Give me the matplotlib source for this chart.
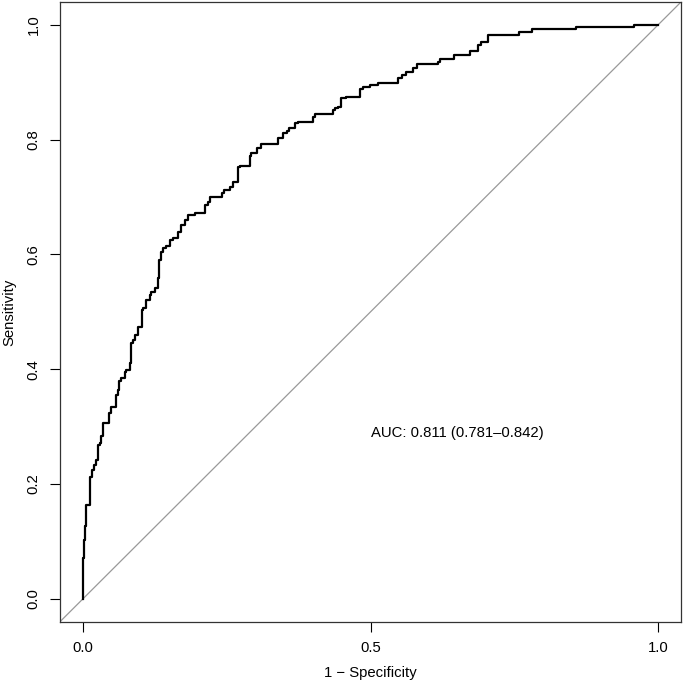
import matplotlib
matplotlib.use('Agg')
import matplotlib.pyplot as plt

plt.rcParams['font.family'] = ['Liberation Sans', 'DejaVu Sans']

# ROC-Kurve (1 - Spezifitaet, Sensitivitaet)
fpr = [0.0, 0.002, 0.003, 0.006, 0.008, 0.012, 0.013, 0.016, 0.019, 0.023,
       0.026, 0.029, 0.031, 0.034, 0.037, 0.046, 0.049, 0.052, 0.057, 0.060,
       0.063, 0.066, 0.073, 0.075, 0.081, 0.084, 0.087, 0.090, 0.096, 0.102,
       0.104, 0.110, 0.116, 0.119, 0.125, 0.130, 0.133, 0.135, 0.139, 0.145,
       0.151, 0.157, 0.165, 0.171, 0.177, 0.183, 0.194, 0.203, 0.212, 0.217,
       0.220, 0.229, 0.241, 0.246, 0.255, 0.261, 0.267, 0.270, 0.273, 0.290,
       0.293, 0.302, 0.310, 0.322, 0.339, 0.348, 0.354, 0.359, 0.368, 0.374,
       0.380, 0.400, 0.403, 0.409, 0.435, 0.438, 0.443, 0.449, 0.458, 0.464,
       0.481, 0.487, 0.499, 0.513, 0.516, 0.548, 0.554, 0.562, 0.574, 0.580,
       0.589, 0.617, 0.620, 0.629, 0.646, 0.649, 0.673, 0.675, 0.687, 0.693,
       0.699, 0.704, 0.706, 0.759, 0.761, 0.780, 0.781, 0.806, 0.858, 0.859,
       0.959, 0.961, 1.0]
tpr = [0.0, 0.071, 0.103, 0.126, 0.164, 0.164, 0.211, 0.213, 0.225, 0.233,
       0.242, 0.268, 0.271, 0.283, 0.306, 0.306, 0.324, 0.335, 0.335, 0.355,
       0.364, 0.379, 0.385, 0.396, 0.399, 0.411, 0.445, 0.451, 0.460, 0.474,
       0.503, 0.506, 0.521, 0.530, 0.535, 0.541, 0.559, 0.591, 0.605, 0.611,
       0.614, 0.625, 0.628, 0.640, 0.652, 0.660, 0.669, 0.672, 0.672, 0.686,
       0.692, 0.701, 0.701, 0.707, 0.713, 0.718, 0.727, 0.727, 0.753, 0.754,
       0.771, 0.776, 0.785, 0.793, 0.793, 0.803, 0.811, 0.816, 0.820, 0.829,
       0.830, 0.830, 0.840, 0.845, 0.845, 0.851, 0.855, 0.857, 0.872, 0.875,
       0.875, 0.888, 0.891, 0.895, 0.898, 0.898, 0.907, 0.913, 0.918, 0.925,
       0.932, 0.932, 0.936, 0.940, 0.940, 0.948, 0.948, 0.955, 0.955, 0.965,
       0.971, 0.971, 0.983, 0.983, 0.987, 0.987, 0.990, 0.993, 0.993, 0.997,
       0.997, 1.0, 1.0]

auc_text = 'AUC: 0.811 (0.781\u20130.842)'
ticks = [0.0, 0.5, 1.0]
yticks = [0.0, 0.2, 0.4, 0.6, 0.8, 1.0]
fs = 10.7

fig = plt.figure(figsize=(6.85, 6.86), dpi=100)
ax = fig.add_axes([0.0876, 0.0937, 0.9066, 0.9034])

ax.plot([-0.1, 1.1], [-0.1, 1.1], color='#999999', lw=0.9, zorder=1)
ax.plot(fpr, tpr, color='black', lw=1.6, drawstyle='steps-pre', zorder=2)
ax.text(0.5, 0.289, auc_text, ha='left', va='center', fontsize=fs)

ax.set_xlim(-0.04, 1.04)
ax.set_ylim(-0.04, 1.04)
ax.set_xticks(ticks)
ax.set_xticklabels(['0.0', '0.5', '1.0'])
ax.set_yticks(yticks)
ax.set_yticklabels(['%.1f' % v for v in yticks], rotation=90, va='center')
ax.tick_params(direction='out', length=7, width=0.8, labelsize=fs, pad=7)
for s in ax.spines.values():
    s.set_linewidth(0.9)
    s.set_color('#333333')

ax.set_xlabel('1 \u2212 Specificity', fontsize=fs, labelpad=8)
ax.set_ylabel('Sensitivity', fontsize=fs, labelpad=7)

fig.savefig('out.png', dpi=100)
